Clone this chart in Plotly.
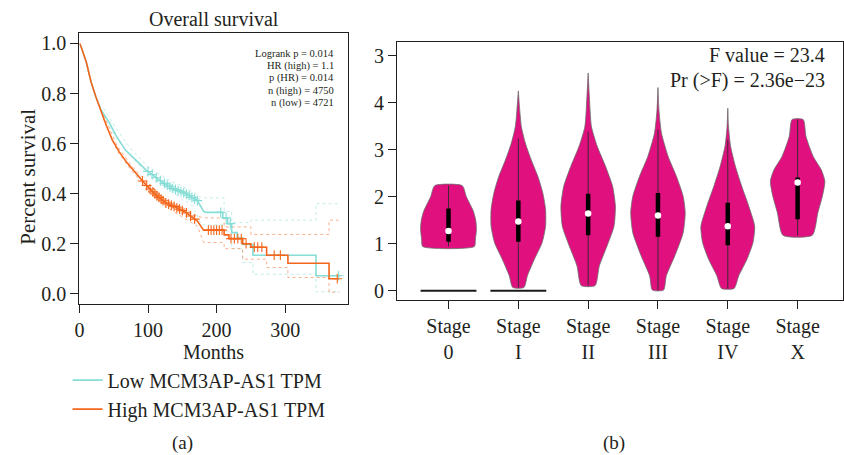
import numpy as np
import plotly.graph_objects as go

W, H = 844, 455
FONT = "Liberation Serif"
TXT = "#231f20"

# ---------------- (a) Kaplan-Meier data ----------------
low_t = [0, 2, 10, 17, 24, 31, 36, 43, 53, 67, 82, 97, 116, 135, 155, 172, 181, 184, 209, 209, 216, 216,
         222, 222, 230, 230, 238, 238, 253, 253, 345, 345, 381]
low_s = [1.0, 0.99, 0.925, 0.845, 0.786, 0.738, 0.715, 0.687, 0.634, 0.574, 0.535, 0.495, 0.455, 0.422,
         0.40, 0.372, 0.33, 0.325, 0.325, 0.303, 0.303, 0.28, 0.28, 0.244, 0.244, 0.222, 0.222, 0.197,
         0.197, 0.154, 0.154, 0.072, 0.072]
high_t = [0, 2, 10, 17, 24, 31, 39, 48, 58, 70, 82, 97, 111, 126, 138, 155, 172, 181, 211, 211, 218, 218,
          238, 238, 250, 250, 273, 273, 304, 304, 364, 364, 378]
high_s = [1.0, 0.99, 0.925, 0.845, 0.786, 0.733, 0.673, 0.614, 0.567, 0.521, 0.482, 0.435, 0.396, 0.363,
          0.349, 0.325, 0.29, 0.254, 0.254, 0.235, 0.235, 0.22, 0.22, 0.2, 0.2, 0.186, 0.186, 0.154,
          0.154, 0.122, 0.122, 0.06, 0.06]

low_up_t = [35, 55, 75, 100, 125, 150, 165, 178, 211, 211, 222, 222, 250, 250, 345, 345, 381]
low_up_s = [0.74, 0.655, 0.578, 0.508, 0.462, 0.43, 0.41, 0.383, 0.383, 0.33, 0.33, 0.285, 0.285,
            0.294, 0.294, 0.36, 0.36]
low_lo_t = [35, 55, 75, 100, 125, 150, 165, 178, 209, 209, 222, 222, 238, 238, 253, 253, 345, 345, 381]
low_lo_s = [0.71, 0.615, 0.55, 0.475, 0.428, 0.38, 0.35, 0.275, 0.275, 0.25, 0.25, 0.18, 0.18, 0.125,
            0.125, 0.078, 0.078, 0.008, 0.008]
high_up_t = [35, 55, 75, 100, 125, 150, 172, 181, 211, 211, 250, 250, 364, 364, 378]
high_up_s = [0.715, 0.59, 0.515, 0.44, 0.378, 0.345, 0.31, 0.303, 0.303, 0.267, 0.267, 0.237, 0.237,
             0.294, 0.294]
high_lo_t = [35, 55, 75, 100, 125, 150, 172, 181, 211, 211, 238, 238, 273, 273, 304, 304, 364, 364, 378]
high_lo_s = [0.70, 0.57, 0.495, 0.415, 0.348, 0.305, 0.27, 0.205, 0.205, 0.18, 0.18, 0.138, 0.138,
             0.105, 0.105, 0.065, 0.065, 0.006, 0.006]

high_cens_t = [92, 98, 103, 107, 110, 113, 116, 119, 122, 126, 130, 134, 138, 142, 146, 150, 156, 162,
               168, 188, 192, 196, 200, 204, 208, 221, 226, 231, 236, 243, 255, 260, 266, 284, 293, 376]
low_cens_t = [100, 106, 112, 118, 124, 128, 132, 136, 140, 144, 148, 152, 156, 160, 164, 168, 172, 206,
              214, 220, 378]

stats_lines = ["Logrank p = 0.014", "HR (high) = 1.1", "p (HR) = 0.014", "n (high) = 4750", "n (low) = 4721"]
legend_names = ["Low MCM3AP-AS1 TPM", "High MCM3AP-AS1 TPM"]

# ---------------- (b) violin data ----------------
stages = ["Stage<br>0", "Stage<br>I", "Stage<br>II", "Stage<br>III", "Stage<br>IV", "Stage<br>X"]
stage0_y = [0.94, 1.1, 1.3, 1.5, 1.7, 2.0, 2.235]
stage0_w = [0.37, 0.385, 0.40, 0.39, 0.353, 0.256, 0.197]
stage1_y = [0.07, 0.32, 0.67, 1.02, 1.37, 1.73, 2.08, 2.43, 2.78, 3.14, 3.49, 3.84, 4.25]
stage1_w = [0.08, 0.13, 0.23, 0.34, 0.39, 0.39, 0.35, 0.28, 0.185, 0.10, 0.043, 0.02, 0.0]
stage2_y = [0.11, 0.53, 0.95, 1.37, 1.80, 2.22, 2.64, 3.07, 3.49, 4.19, 4.63]
stage2_w = [0.10, 0.16, 0.27, 0.37, 0.39, 0.35, 0.25, 0.13, 0.047, 0.015, 0.0]
stage3_y = [0.015, 0.32, 0.74, 1.23, 1.66, 2.01, 2.43, 2.85, 3.35, 3.84, 4.32]
stage3_w = [0.08, 0.12, 0.24, 0.36, 0.39, 0.36, 0.265, 0.147, 0.05, 0.014, 0.0]
stage4_y = [0.05, 0.32, 0.67, 1.02, 1.37, 1.80, 2.22, 2.64, 3.07, 3.49, 3.88]
stage4_w = [0.09, 0.157, 0.275, 0.36, 0.385, 0.30, 0.20, 0.11, 0.04, 0.01, 0.0]
stageX_y = [1.18, 1.66, 2.01, 2.33, 2.57, 2.85, 3.28, 3.64]
stageX_w = [0.21, 0.29, 0.355, 0.39, 0.34, 0.225, 0.12, 0.08]

q1 = [1.04, 1.04, 1.18, 1.15, 0.97, 1.52]
q3 = [1.75, 1.92, 2.06, 2.08, 1.87, 2.41]
medians = [1.27, 1.47, 1.64, 1.60, 1.37, 2.30]
whisk_lo = [0.94, 0.07, 0.11, 0.015, 0.05, 1.18]
whisk_hi = [2.235, 3.24, 3.38, 3.43, 3.21, 3.64]
zero_stages = [0, 1]
zero_value = 0.0
y_ticktext = ["0", "1", "2", "3", "4", "3"]
f_text = ["F value = 23.4", "Pr (>F) = 2.36e\u221223"]

# ---------------- figure ----------------
def px(x):
    return x / W

def py(y):
    return 1 - y / H

LOW_C = "#86ddd5"
HIGH_C = "#f4661b"
VIOLIN_C = "#e0117f"

fig = go.Figure()

# CI dotted lines
for t, s, c in [(low_up_t, low_up_s, LOW_C), (low_lo_t, low_lo_s, LOW_C),
                (high_up_t, high_up_s, HIGH_C), (high_lo_t, high_lo_s, HIGH_C)]:
    fig.add_trace(go.Scatter(x=t, y=s, mode="lines", line=dict(color=c, width=1, dash="dot"),
                             opacity=0.5, showlegend=False, hoverinfo="skip", xaxis="x", yaxis="y"))

# main curves
fig.add_trace(go.Scatter(x=low_t, y=low_s, mode="lines", name=legend_names[0],
                         line=dict(color=LOW_C, width=1.6), xaxis="x", yaxis="y"))
fig.add_trace(go.Scatter(x=high_t, y=high_s, mode="lines", name=legend_names[1],
                         line=dict(color=HIGH_C, width=1.6), xaxis="x", yaxis="y"))

# censor marks
for ct, t, s, c in [(low_cens_t, low_t, low_s, LOW_C), (high_cens_t, high_t, high_s, HIGH_C)]:
    cy = np.interp(ct, t, s)
    fig.add_trace(go.Scatter(x=ct, y=cy, mode="markers",
                             marker=dict(symbol="cross-thin", size=7, line=dict(color=c, width=1.1)),
                             showlegend=False, hoverinfo="skip", xaxis="x", yaxis="y"))

# violins
profiles = [(stage0_y, stage0_w), (stage1_y, stage1_w), (stage2_y, stage2_w),
            (stage3_y, stage3_w), (stage4_y, stage4_w), (stageX_y, stageX_w)]
for i, (yy, ww) in enumerate(profiles):
    xs = [i + w for w in ww] + [i - w for w in ww[::-1]] + [i + ww[0]]
    ys = list(yy) + list(yy[::-1]) + [yy[0]]
    fig.add_trace(go.Scatter(x=xs, y=ys, mode="lines", fill="toself", fillcolor=VIOLIN_C,
                             line=dict(color="#6b6b6b", width=0.8, shape="spline", smoothing=0.6),
                             showlegend=False, hoverinfo="skip", xaxis="x2", yaxis="y2"))
    # whisker
    fig.add_trace(go.Scatter(x=[i, i], y=[whisk_lo[i], whisk_hi[i]], mode="lines",
                             line=dict(color="#3a2a30", width=1), showlegend=False,
                             hoverinfo="skip", xaxis="x2", yaxis="y2"))
    # box
    fig.add_trace(go.Scatter(x=[i, i], y=[q1[i], q3[i]], mode="lines",
                             line=dict(color="black", width=4.5), showlegend=False,
                             hoverinfo="skip", xaxis="x2", yaxis="y2"))

# medians
fig.add_trace(go.Scatter(x=list(range(len(stages))), y=medians, mode="markers",
                         marker=dict(color="white", size=6.5, line=dict(width=0)),
                         showlegend=False, hoverinfo="skip", xaxis="x2", yaxis="y2"))

# zero lines for stage 0 and I
for i in zero_stages:
    fig.add_trace(go.Scatter(x=[i - 0.4, i + 0.4], y=[zero_value, zero_value], mode="lines",
                             line=dict(color="#1a1a1a", width=2), showlegend=False,
                             hoverinfo="skip", xaxis="x2", yaxis="y2"))

axis_common = dict(showline=True, linecolor="#231f20", linewidth=1.4, mirror=True, ticks="outside",
                   ticklen=8, tickwidth=1.4, tickcolor="#231f20", showgrid=False, zeroline=False,
                   tickfont=dict(family=FONT, size=20, color=TXT))

fig.update_layout(
    width=W, height=H, margin=dict(l=0, r=0, t=0, b=0),
    paper_bgcolor="white", plot_bgcolor="white",
    font=dict(family=FONT, color=TXT),
    xaxis=dict(domain=[px(75), px(345)], range=[0, 391], tickvals=[0, 100, 200, 300],
               title=dict(text="Months", font=dict(family=FONT, size=20, color=TXT), standoff=0),
               anchor="y", **axis_common),
    yaxis=dict(domain=[py(305), py(32.7)], range=[-0.041, 1.04],
               tickvals=[0, 0.2, 0.4, 0.6, 0.8, 1.0], ticktext=["0.0", "0.2", "0.4", "0.6", "0.8", "1.0"],
               anchor="x", **axis_common),
    xaxis2=dict(domain=[px(395), 1.0], range=[-0.735, 5.65], tickvals=list(range(len(stages))),
                ticktext=stages, anchor="y2", **axis_common),
    yaxis2=dict(domain=[py(301), py(41.7)], range=[-0.197, 5.28], tickvals=[0, 1, 2, 3, 4, 5],
                ticktext=y_ticktext, anchor="x2", **axis_common),
    legend=dict(x=px(63), y=py(362), xanchor="left", yanchor="top", bgcolor="rgba(0,0,0,0)",
                font=dict(family=FONT, size=20, color=TXT), tracegroupgap=0, itemwidth=30),
)

ann = []
ann.append(dict(text="Overall survival", x=px(210), y=py(18), xref="paper", yref="paper",
                showarrow=False, font=dict(family=FONT, size=20, color=TXT), xanchor="center", yanchor="middle"))
ann.append(dict(text="Percent survival", x=px(23), y=py(177), xref="paper", yref="paper",
                showarrow=False, textangle=-90, font=dict(family=FONT, size=21, color=TXT),
                xanchor="center", yanchor="middle"))
for k, line in enumerate(stats_lines):
    ann.append(dict(text=line, x=px(333), y=py(53 + 12.4 * k), xref="paper", yref="paper",
                    showarrow=False, font=dict(family=FONT, size=10.5, color=TXT),
                    xanchor="right", yanchor="middle"))
for k, line in enumerate(f_text):
    ann.append(dict(text=line, x=px(828), y=py(54 + 26 * k), xref="paper", yref="paper",
                    showarrow=False, font=dict(family=FONT, size=20, color=TXT),
                    xanchor="right", yanchor="middle"))
ann.append(dict(text="(a)", x=px(179), y=py(445), xref="paper", yref="paper", showarrow=False,
                font=dict(family=FONT, size=19, color=TXT), xanchor="center", yanchor="middle"))
ann.append(dict(text="(b)", x=px(613), y=py(445), xref="paper", yref="paper", showarrow=False,
                font=dict(family=FONT, size=19, color=TXT), xanchor="center", yanchor="middle"))
fig.update_layout(annotations=ann)

fig.write_html("out.html")
